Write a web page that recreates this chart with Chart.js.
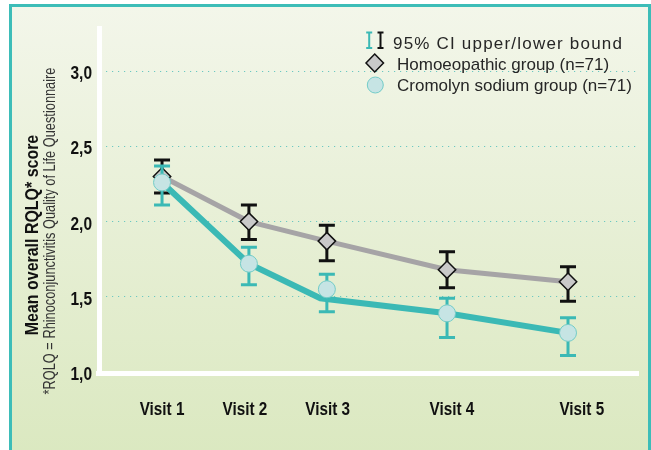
<!DOCTYPE html>
<html>
<head>
<meta charset="utf-8">
<script src="https://cdn.jsdelivr.net/npm/chart.js@4.4.1/dist/chart.umd.min.js"></script>
<style>
body { margin: 0; background: #fff; }
#wrap { position: relative; width: 651px; height: 450px; overflow: hidden; }
#box { position: absolute; left: 9px; top: 4px; width: 636px; height: 460px;
       border: 3px solid #3dbdb8; background: linear-gradient(#f3f6ea, #dae8bf); }
#chart { position: absolute; left: 0; top: 0; }
</style>
</head>
<body>
<div id="wrap">
  <div id="box"></div>
  <canvas id="chart" width="651" height="450"></canvas>
</div>
<script>
// Visits (x positions, visit 1 = 0)
const visits = ['Visit 1', 'Visit 2', 'Visit 3', 'Visit 4', 'Visit 5'];
const visitX = [0, 1.07, 2.03, 3.51, 5];
const labelX = [0, 1.02, 2.04, 3.57, 5.17];

// Homoeopathic group (n=71)
const homoeo = [2.30, 2.00, 1.87, 1.68, 1.60];
const homoeoUpper = [2.41, 2.11, 1.975, 1.80, 1.70];
const homoeoLower = [2.19, 1.88, 1.74, 1.56, 1.47];

// Cromolyn sodium group (n=71)
const cromolyn = [2.26, 1.72, 1.55, 1.39, 1.26];
const cromolynUpper = [2.37, 1.83, 1.65, 1.49, 1.36];
const cromolynLower = [2.11, 1.58, 1.40, 1.23, 1.11];
// the drawn teal line bends a little under the visit 3 marker
const cromolynLineX = [0, 1.07, 1.95, 3.51, 5];
const cromolynLineY = [2.26, 1.72, 1.49, 1.39, 1.26];

const yTicks = [1.0, 1.5, 2.0, 2.5, 3.0];

const SANS = '"Liberation Sans", Arial, sans-serif';
const TEAL = '#3bb9b5';

function pts(xs, ys) {
    return xs.map((x, i) => ({ x: x, y: ys[i] }));
}

// no narrow face installed, so squeeze Liberation Sans horizontally
function narrowText(ctx, text, x, y, font, sx, align, rot) {
    ctx.save();
    ctx.translate(x, y);
    if (rot) ctx.rotate(rot);
    ctx.scale(sx, 1);
    ctx.font = font;
    ctx.textAlign = align;
    ctx.textBaseline = 'alphabetic';
    ctx.fillText(text, 0, 0);
    ctx.restore();
}

// error bars, drawn just before the dataset they belong to
const errorBars = {
    id: 'errorBars',
    beforeDatasetDraw(chart, args) {
        const ds = chart.data.datasets[args.index];
        if (!ds.errUpper) return;
        const xs = chart.scales.x, ys = chart.scales.y;
        const ctx = chart.ctx;
        ctx.save();
        ctx.strokeStyle = ds.errColor;
        ctx.lineWidth = 3;
        ds.data.forEach((p, i) => {
            const px = xs.getPixelForValue(p.x);
            const top = ys.getPixelForValue(ds.errUpper[i]);
            const bot = ys.getPixelForValue(ds.errLower[i]);
            ctx.beginPath();
            ctx.moveTo(px, top); ctx.lineTo(px, bot);
            ctx.moveTo(px - 8, top); ctx.lineTo(px + 8, top);
            ctx.moveTo(px - 8, bot); ctx.lineTo(px + 8, bot);
            ctx.stroke();
        });
        ctx.restore();
    }
};

// white axis lines
const axisLines = {
    id: 'axisLines',
    beforeDatasetsDraw(chart) {
        const a = chart.chartArea;
        const ctx = chart.ctx;
        ctx.save();
        ctx.fillStyle = '#fff';
        ctx.fillRect(a.left - 3, a.top, 5, a.bottom - a.top + 4);
        ctx.fillRect(a.left - 4, a.bottom - 1, a.right - a.left + 5, 5);
        ctx.restore();
    }
};

// tick labels, axis title, footnote and legend
const texts = {
    id: 'texts',
    afterDraw(chart) {
        const ctx = chart.ctx;
        const xs = chart.scales.x, ys = chart.scales.y;
        ctx.save();
        ctx.fillStyle = '#111';
        const tickFont = 'bold 18px ' + SANS;
        yTicks.forEach(v => {
            narrowText(ctx, v.toFixed(1).replace('.', ','), 92, ys.getPixelForValue(v) + 8,
                tickFont, 0.86, 'right');
        });
        labelX.forEach((v, i) => {
            narrowText(ctx, visits[i], xs.getPixelForValue(v), 415, tickFont, 0.85, 'center');
        });

        narrowText(ctx, 'Mean overall RQLQ* score', 38, 235, 'bold 19px ' + SANS, 0.84,
            'center', -Math.PI / 2);
        ctx.fillStyle = '#333';
        narrowText(ctx, '*RQLQ = Rhinoconjunctivitis Quality of Life Questionnaire', 54.5, 231,
            '16px ' + SANS, 0.80, 'center', -Math.PI / 2);

        // legend: CI icon
        ctx.lineWidth = 2;
        [[369.2, TEAL], [380.5, '#111']].forEach(([x, c]) => {
            ctx.strokeStyle = c;
            ctx.beginPath();
            ctx.moveTo(x, 32.5); ctx.lineTo(x, 48);
            ctx.moveTo(x - 3, 32.5); ctx.lineTo(x + 3, 32.5);
            ctx.moveTo(x - 3, 48); ctx.lineTo(x + 3, 48);
            ctx.stroke();
        });
        // diamond
        ctx.beginPath();
        ctx.moveTo(374.7, 54); ctx.lineTo(383.5, 63); ctx.lineTo(374.7, 72); ctx.lineTo(366, 63);
        ctx.closePath();
        ctx.fillStyle = '#c9c9c9'; ctx.fill();
        ctx.strokeStyle = '#111'; ctx.lineWidth = 1.5; ctx.stroke();
        // circle
        ctx.beginPath();
        ctx.arc(375.3, 85, 8, 0, Math.PI * 2);
        ctx.fillStyle = '#c6e4e4'; ctx.fill();
        ctx.strokeStyle = '#72cbc7'; ctx.lineWidth = 1; ctx.stroke();

        ctx.textAlign = 'left';
        ctx.textBaseline = 'alphabetic';
        ctx.fillStyle = '#262626';
        ctx.font = '17px ' + SANS;
        ctx.letterSpacing = '1.2px';
        ctx.fillText('95% CI upper/lower bound', 393, 49.3);
        ctx.letterSpacing = '0px';
        ctx.fillText('Homoeopathic group (n=71)', 397, 70);
        ctx.fillText('Cromolyn sodium group (n=71)', 397, 90.5);
        ctx.restore();
    }
};

new Chart(document.getElementById('chart'), {
    type: 'line',
    data: {
        datasets: [
            {
                label: 'Cromolyn sodium group (n=71)',
                data: pts(visitX, cromolyn),
                showLine: false,
                pointStyle: 'circle',
                pointRadius: 8.5,
                pointBackgroundColor: '#c6e4e4',
                pointBorderColor: '#72cbc7',
                pointBorderWidth: 1,
                errUpper: cromolynUpper,
                errLower: cromolynLower,
                errColor: TEAL
            },
            {
                label: 'Cromolyn line',
                data: pts(cromolynLineX, cromolynLineY),
                borderColor: TEAL,
                borderWidth: 6,
                pointRadius: 0,
                tension: 0
            },
            {
                label: 'Homoeopathic group (n=71)',
                data: pts(visitX, homoeo),
                borderColor: '#a6a4a6',
                borderWidth: 5,
                tension: 0,
                pointStyle: 'rectRot',
                pointRadius: 8.7,
                pointBackgroundColor: '#c9c9c9',
                pointBorderColor: '#111',
                pointBorderWidth: 1.5,
                errUpper: homoeoUpper,
                errLower: homoeoLower,
                errColor: '#111'
            }
        ]
    },
    options: {
        responsive: false,
        animation: false,
        layout: { padding: { left: 0, top: 26, right: 13, bottom: 0 } },
        plugins: { legend: { display: false }, tooltip: { enabled: false } },
        scales: {
            x: {
                type: 'linear',
                min: -0.764,
                max: 5.862,
                afterFit: s => { s.height = 78; },
                afterBuildTicks: axis => { axis.ticks = labelX.map(v => ({ value: v })); },
                grid: { display: false, drawTicks: false },
                border: { display: false },
                ticks: { display: false }
            },
            y: {
                min: 1.0,
                max: 3.3,
                afterFit: s => { s.width = 100; },
                afterBuildTicks: axis => { axis.ticks = yTicks.map(v => ({ value: v })); },
                grid: {
                    drawTicks: false,
                    lineWidth: 1,
                    color: c => (c.tick && c.tick.value === 1.0) ? 'rgba(0,0,0,0)' : '#6cc8c1'
                },
                border: { display: false, dash: [1.2, 4.8] },
                ticks: { display: false }
            }
        }
    },
    plugins: [axisLines, errorBars, texts]
});
</script>
</body>
</html>
